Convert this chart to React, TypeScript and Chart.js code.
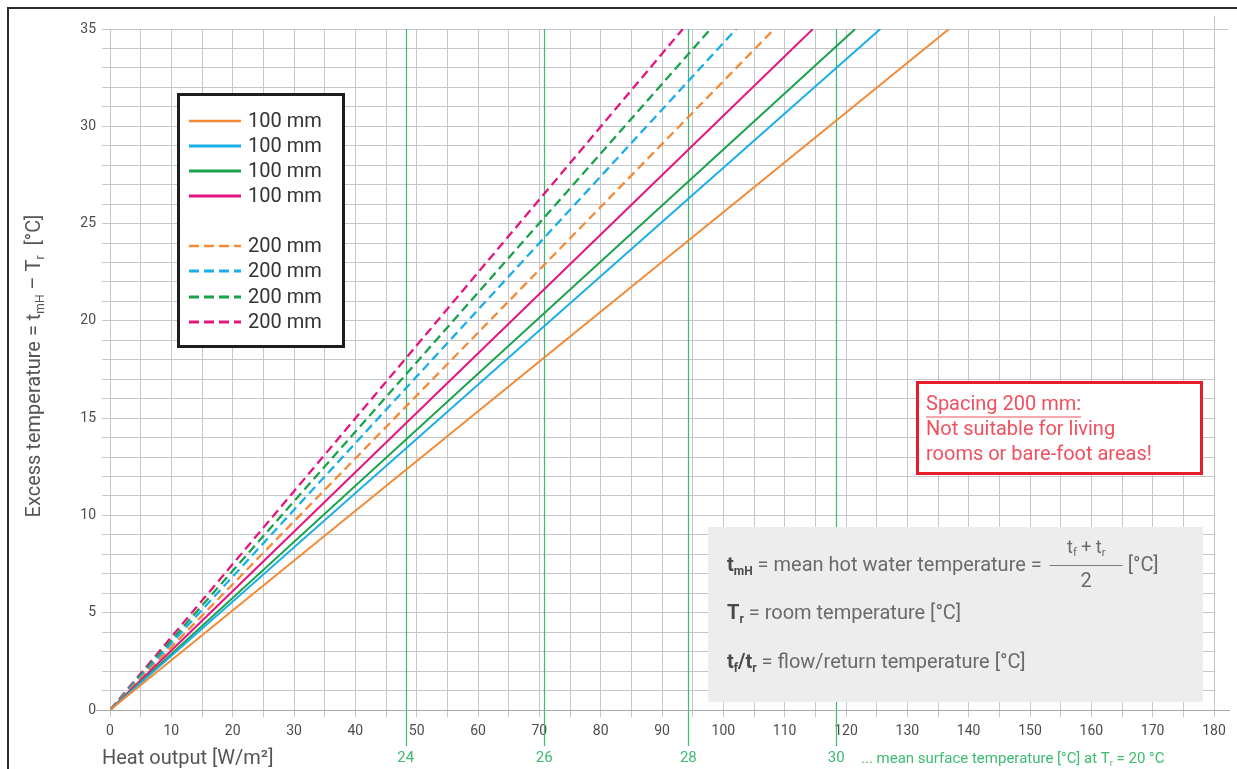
import React, { useEffect, useRef } from "react";
import { Chart, registerables } from "chart.js";

Chart.register(...registerables);

// Excess temperature range covered by every curve [°C]
const excessTemp = [0, 35];

// Heat output [W/m²] at the ends of each curve, 100 mm pipe spacing
const output100Orange = [0, 136.8];
const output100Blue = [0, 125.6];
const output100Green = [0, 121.5];
const output100Magenta = [0, 114.6];

// Heat output [W/m²] at the ends of each curve, 200 mm pipe spacing
const output200Orange = [0, 108.3];
const output200Blue = [0, 102.1];
const output200Green = [0, 97.9];
const output200Magenta = [0, 93.4];

const spacingLabels = ["100 mm", "100 mm", "100 mm", "100 mm", "200 mm", "200 mm", "200 mm", "200 mm"];

// Mean surface temperature markers (°C) and the heat output where they sit
const surfaceTemps = [24, 26, 28, 30];
const surfaceTempOutputs = [48.2, 70.8, 94.3, 118.4];

const ORANGE = "#F48A36";
const BLUE = "#1AAEE8";
const GREEN = "#17A24B";
const MAGENTA = "#E5157F";
const MARK_GREEN = "#3DBB70";
const FONT = "Roboto, 'Noto Sans', sans-serif";

type Run = { t: string; sub?: boolean; bold?: boolean };

function drawRuns(
  ctx: CanvasRenderingContext2D,
  runs: Run[],
  x: number,
  y: number,
  size: number,
  color: string,
  measureOnly = false
): number {
  let cx = x;
  for (const r of runs) {
    const s = r.sub ? Math.round(size * 0.62) : size;
    ctx.font = `${r.bold ? "bold " : ""}${s}px ${FONT}`;
    const w = ctx.measureText(r.t).width;
    if (!measureOnly) {
      ctx.fillStyle = color;
      ctx.fillText(r.t, cx, r.sub ? y + size * 0.3 : y);
    }
    cx += w;
  }
  return cx;
}

const series = [
  { data: output100Orange, color: ORANGE, dashed: false },
  { data: output100Blue, color: BLUE, dashed: false },
  { data: output100Green, color: GREEN, dashed: false },
  { data: output100Magenta, color: MAGENTA, dashed: false },
  { data: output200Orange, color: ORANGE, dashed: true },
  { data: output200Blue, color: BLUE, dashed: true },
  { data: output200Green, color: GREEN, dashed: true },
  { data: output200Magenta, color: MAGENTA, dashed: true },
];

const markerPlugin = {
  id: "surfaceMarkers",
  beforeDatasetsDraw(chart: any) {
    const { ctx, chartArea, scales } = chart;
    ctx.save();
    ctx.strokeStyle = MARK_GREEN;
    ctx.lineWidth = 1.2;
    surfaceTemps.forEach((t, i) => {
      const px = Math.round(scales.x.getPixelForValue(surfaceTempOutputs[i])) + 0.5;
      ctx.beginPath();
      ctx.moveTo(px, chartArea.top);
      ctx.lineTo(px, 746);
      ctx.stroke();
    });
    ctx.restore();
  },
};

const overlayPlugin = {
  id: "overlays",
  afterDatasetsDraw(chart: any) {
    const { ctx, chartArea, scales } = chart;
    ctx.save();

    // outer frame (left and top edges)
    ctx.strokeStyle = "#2b2b2b";
    ctx.lineWidth = 2;
    ctx.beginPath();
    ctx.moveTo(8, 769);
    ctx.lineTo(8, 8);
    ctx.lineTo(1237, 8);
    ctx.stroke();

    // axis extensions
    ctx.strokeStyle = "#c4c4c8";
    ctx.lineWidth = 1;
    ctx.beginPath();
    ctx.moveTo(chartArea.right + 0.5, 16);
    ctx.lineTo(chartArea.right + 0.5, chartArea.top);
    ctx.moveTo(chartArea.right, chartArea.top + 0.5);
    ctx.lineTo(1228, chartArea.top + 0.5);
    ctx.stroke();
    ctx.strokeStyle = "#a8a8ac";
    ctx.beginPath();
    ctx.moveTo(96, chartArea.bottom + 0.5);
    ctx.lineTo(1230, chartArea.bottom + 0.5);
    ctx.stroke();

    // legend box
    const lx = 177, ly = 93, lw = 168, lh = 255;
    ctx.fillStyle = "#ffffff";
    ctx.fillRect(lx, ly, lw, lh);
    ctx.strokeStyle = "#1e1e1e";
    ctx.lineWidth = 3;
    ctx.strokeRect(lx + 1.5, ly + 1.5, lw - 3, lh - 3);
    const rowYs = [121, 146, 171, 196, 246, 271, 297, 322];
    ctx.textBaseline = "middle";
    ctx.textAlign = "left";
    series.forEach((s, i) => {
      const y = rowYs[i];
      ctx.strokeStyle = s.color;
      ctx.lineWidth = i === 0 || i === 4 ? 2.6 : 3.2;
      ctx.setLineDash(s.dashed ? [10, 5] : []);
      ctx.beginPath();
      ctx.moveTo(189, y);
      ctx.lineTo(241, y);
      ctx.stroke();
      ctx.setLineDash([]);
      ctx.font = `20px ${FONT}`;
      ctx.fillStyle = "#333333";
      ctx.fillText(spacingLabels[i], 248, y + 1);
    });

    // warning box
    ctx.fillStyle = "#ffffff";
    ctx.fillRect(916, 381, 287, 94);
    ctx.strokeStyle = "#E61E2B";
    ctx.lineWidth = 3;
    ctx.strokeRect(917.5, 382.5, 284, 91);
    ctx.fillStyle = "#F0505F";
    ctx.font = `20px ${FONT}`;
    const warn = ["Spacing 200 mm:", "Not suitable for living", "rooms or bare-foot areas!"];
    const warnY = [405, 430, 455];
    warn.forEach((t, i) => ctx.fillText(t, 926, warnY[i]));
    const uw = ctx.measureText(warn[0]).width;
    ctx.strokeStyle = "#F0505F";
    ctx.lineWidth = 1.2;
    ctx.beginPath();
    ctx.moveTo(926, 417);
    ctx.lineTo(926 + uw, 417);
    ctx.stroke();

    // definitions box
    ctx.fillStyle = "#EDEDED";
    ctx.fillRect(708, 527, 495, 175);
    const txt = "#6a6a6a";
    const bold = "#4a4a4a";
    let end = drawRuns(ctx, [{ t: "t", bold: true }, { t: "mH", bold: true, sub: true }], 727, 566, 20, bold);
    end = drawRuns(ctx, [{ t: " = mean hot water temperature = " }], end, 566, 20, txt);
    const fracL = end + 3, fracR = end + 76;
    ctx.strokeStyle = "#7a7a7a";
    ctx.lineWidth = 1.2;
    ctx.beginPath();
    ctx.moveTo(fracL, 565.5);
    ctx.lineTo(fracR, 565.5);
    ctx.stroke();
    const numRuns: Run[] = [{ t: "t" }, { t: "f", sub: true }, { t: " + t" }, { t: "r", sub: true }];
    const numW = drawRuns(ctx, numRuns, 0, 0, 18, txt, true);
    drawRuns(ctx, numRuns, (fracL + fracR) / 2 - numW / 2, 548, 18, txt);
    ctx.font = `20px ${FONT}`;
    ctx.fillStyle = txt;
    ctx.textAlign = "center";
    ctx.fillText("2", (fracL + fracR) / 2, 582);
    ctx.textAlign = "left";
    drawRuns(ctx, [{ t: " [°C]" }], fracR, 566, 20, txt);

    end = drawRuns(ctx, [{ t: "T", bold: true }, { t: "r", bold: true, sub: true }], 727, 614, 20, bold);
    drawRuns(ctx, [{ t: " = room temperature [°C]" }], end, 614, 20, txt);

    end = drawRuns(
      ctx,
      [{ t: "t", bold: true }, { t: "f", bold: true, sub: true }, { t: "/t", bold: true }, { t: "r", bold: true, sub: true }],
      727,
      663,
      20,
      bold
    );
    drawRuns(ctx, [{ t: " = flow/return temperature [°C]" }], end, 663, 20, txt);

    // axis titles
    ctx.textBaseline = "middle";
    const yRuns: Run[] = [
      { t: "Excess temperature = t" },
      { t: "mH", sub: true },
      { t: " – T" },
      { t: "r", sub: true },
      { t: "  [°C]" },
    ];
    const yw = drawRuns(ctx, yRuns, 0, 0, 20, "#555", true);
    ctx.save();
    ctx.translate(35, 366);
    ctx.rotate(-Math.PI / 2);
    drawRuns(ctx, yRuns, -yw / 2, 0, 20, "#555555");
    ctx.restore();

    ctx.font = `20px ${FONT}`;
    ctx.fillStyle = "#555555";
    ctx.textAlign = "left";
    ctx.fillText("Heat output [W/m²]", 102, 759);

    // surface temperature labels
    ctx.fillStyle = MARK_GREEN;
    ctx.font = `15px ${FONT}`;
    ctx.textAlign = "center";
    surfaceTemps.forEach((t, i) => {
      const px = scales.x.getPixelForValue(surfaceTempOutputs[i]);
      ctx.fillText(String(t), px, 758);
    });
    ctx.textAlign = "left";
    drawRuns(
      ctx,
      [{ t: "... mean surface temperature [°C] at T" }, { t: "r", sub: true }, { t: " = 20 °C" }],
      861,
      759,
      15,
      MARK_GREEN
    );

    ctx.restore();
  },
};

export default function App() {
  const canvasRef = useRef<HTMLCanvasElement | null>(null);

  useEffect(() => {
    const canvas = canvasRef.current;
    if (!canvas) return;
    const chart = new Chart(canvas, {
      type: "scatter",
      data: {
        datasets: series.map((s, i) => ({
          label: spacingLabels[i],
          data: s.data.map((x, j) => ({ x, y: excessTemp[j] })),
          showLine: true,
          borderColor: s.color,
          backgroundColor: s.color,
          borderWidth: s.dashed ? 2.3 : 2,
          borderDash: s.dashed ? [9, 5] : [],
          pointRadius: 0,
          fill: false,
        })),
      },
      options: {
        responsive: false,
        animation: false,
        devicePixelRatio: 1,
        layout: { padding: { left: 0, top: 29, right: 23, bottom: 0 } },
        plugins: { legend: { display: false }, tooltip: { enabled: false } },
        scales: {
          x: {
            type: "linear",
            min: 0,
            max: 180,
            afterFit: (scale: any) => {
              scale.height = 59;
            },
            ticks: {
              stepSize: 5,
              autoSkip: false,
              maxRotation: 0,
              padding: 6,
              color: "#4d4d4d",
              font: { family: FONT, size: 14 },
              callback: (v: any) => (Number(v) % 10 === 0 ? String(v) : ""),
            },
            grid: { color: "#c6c6ca", lineWidth: 1, tickLength: 7 },
            border: { display: true, color: "#a8a8ac" },
          },
          y: {
            type: "linear",
            min: 0,
            max: 35,
            afterFit: (scale: any) => {
              scale.width = 110;
            },
            ticks: {
              stepSize: 1,
              autoSkip: false,
              padding: 6,
              color: "#4d4d4d",
              font: { family: FONT, size: 14 },
              callback: (v: any) => (Number(v) % 5 === 0 ? String(v) : ""),
            },
            grid: { color: "#c6c6ca", lineWidth: 1, tickLength: 8 },
            border: { display: true, color: "#c6c6ca" },
          },
        },
      },
      plugins: [markerPlugin, overlayPlugin],
    } as any);
    return () => chart.destroy();
  }, []);

  return (
    <div style={{ position: "fixed", left: 0, top: 0, width: 1237, height: 769, background: "#ffffff" }}>
      <canvas ref={canvasRef} width={1237} height={769} style={{ display: "block" }} />
    </div>
  );
}
